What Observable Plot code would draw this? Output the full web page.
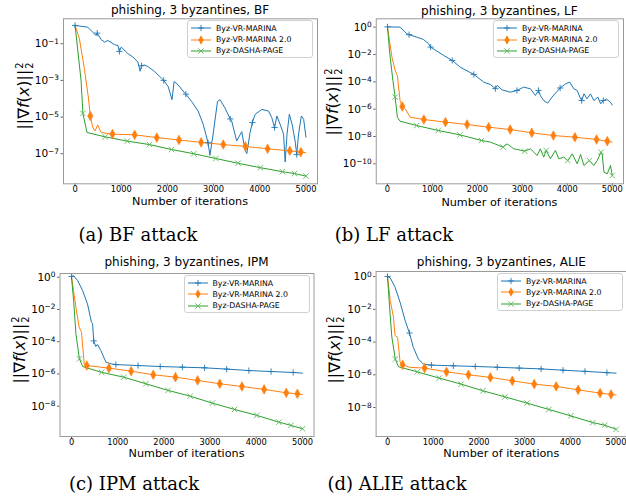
<!DOCTYPE html>
<html><head><meta charset="utf-8">
<script src="https://cdn.jsdelivr.net/npm/d3@7"></script>
<script src="https://cdn.jsdelivr.net/npm/@observablehq/plot@0.6"></script>
<style>
html,body{margin:0;padding:0;background:#fff}
body{width:626px;height:498px;overflow:hidden;position:relative;font-family:"DejaVu Sans",sans-serif;color:#000}
.abs{position:absolute;white-space:nowrap}
.title{font-size:12px;transform:translate(-50%,-50%)}
.xlab{font-size:11.2px;line-height:1;transform:translate(-50%,-50%)}
.ylab{font-size:16px;transform:translate(-50%,-50%) rotate(-90deg)}
.ss{display:inline-flex;flex-direction:column;font-size:0.62em;line-height:0.95;vertical-align:middle;margin-left:1px}
.cap{font-family:"DejaVu Serif",serif;font-size:18px;transform:translate(-50%,0)}
.leg{background:rgba(255,255,255,0.85);border:1px solid #d0d0d0;border-radius:3px;box-sizing:border-box;font-size:7.8px}
.row{position:absolute;left:3px;height:11px;display:flex;align-items:center}
.row svg{margin-right:5px}
svg.plot{position:absolute;overflow:visible}
</style></head><body>
<script>
// ---------- data ----------
const seriesNames = ["Byz-VR-MARINA", "Byz-VR-MARINA 2.0", "Byz-DASHA-PAGE"];
const seriesColors = ["#1f77b4", "#ff7f0e", "#2ca02c"];
const iterTicks = [0, 1000, 2000, 3000, 4000, 5000];
// iterations where the markers sit
const markVR = [0, 480, 960, 1440, 1920, 2400, 2880, 3360, 3840, 4320, 4800];
const markVR2 = [330, 810, 1290, 1770, 2250, 2730, 3210, 3690, 4170, 4650, 4890];
const markDasha = [170, 650, 1130, 1610, 2090, 2570, 3050, 3530, 4010, 4490, 4750, 5000];

// each point: [iteration, log10 of ||grad f(x)||^2]
// (a) BF attack
const bfVR = [[0,0],[275,-0.1],[456,-0.55],[480,-0.42],[565,-0.77],[640,-0.91],[710,-0.82],[855,-1.05],[930,-1.1],[960,-1.42],[1000,-1.18],[1145,-1.54],[1250,-1.72],[1360,-1.99],[1410,-2.5],[1440,-2.2],[1507,-2.16],[1580,-2.25],[1725,-2.52],[1870,-2.88],[1920,-3.0],[2015,-3.33],[2100,-4.05],[2145,-3.06],[2230,-3.24],[2375,-3.69],[2400,-3.75],[2520,-4.14],[2665,-4.67],[2775,-5.39],[2880,-6.4],[2920,-7.09],[2990,-5.93],[3085,-4.14],[3140,-4.05],[3245,-4.5],[3360,-5.1],[3390,-5.2],[3500,-6.3],[3610,-5.8],[3680,-6.8],[3720,-6.99],[3790,-5.84],[3840,-5.3],[3900,-4.85],[4045,-4.58],[4190,-4.67],[4260,-5.03],[4320,-5.57],[4370,-4.94],[4440,-5.39],[4515,-5.93],[4550,-7.45],[4590,-5.93],[4640,-4.85],[4700,-5.39],[4770,-6.38],[4800,-7.05],[4840,-5.93],[4900,-4.94],[4950,-5.12],[5000,-6.1]];
const bfVR2 = [[0,0],[95,-0.73],[200,-2.34],[290,-3.96],[330,-4.94],[385,-5.57],[435,-5.75],[490,-5.43],[565,-5.84],[710,-5.9],[810,-5.93],[1290,-5.97],[1770,-6.12],[2250,-6.25],[2730,-6.38],[3210,-6.5],[3690,-6.6],[4170,-6.73],[4650,-6.84],[4890,-6.91],[5000,-6.95]];
const bfDasha = [[0,0],[130,-3.0],[170,-4.8],[260,-5.84],[650,-6.08],[1130,-6.31],[1610,-6.5],[2090,-6.77],[2570,-7.0],[3050,-7.26],[3530,-7.52],[4010,-7.76],[4490,-7.98],[4750,-8.08],[5000,-8.22]];
// (b) LF attack
const lfVR = [[0,0.02],[280,0],[430,-0.49],[480,-0.55],[650,-0.73],[800,-0.9],[915,-1.22],[960,-1.46],[1100,-1.76],[1250,-2.07],[1440,-2.44],[1620,-2.93],[1920,-3.46],[2140,-4.02],[2290,-4.2],[2400,-4.5],[2440,-4.27],[2550,-4.59],[2735,-4.76],[2880,-4.63],[3030,-4.39],[3180,-4.51],[3290,-5.0],[3360,-4.63],[3400,-5.0],[3475,-5.37],[3565,-5.56],[3660,-5.12],[3840,-4.45],[3960,-4.15],[4055,-4.02],[4145,-4.51],[4220,-4.63],[4280,-5.12],[4320,-5.37],[4370,-4.88],[4440,-5.24],[4515,-4.88],[4590,-5.37],[4680,-5.12],[4740,-5.61],[4800,-5.37],[4875,-5.27],[4960,-5.49],[5000,-5.7]];
const lfVR2 = [[0,0],[100,-2.2],[170,-3.17],[220,-3.54],[280,-5.37],[330,-5.8],[395,-5.98],[505,-6.59],[810,-6.76],[1290,-6.95],[1770,-7.12],[2250,-7.32],[2730,-7.49],[3210,-7.73],[3690,-7.93],[4170,-8.05],[4650,-8.22],[4890,-8.34],[5000,-8.41]];
const lfDasha = [[0,0],[60,-2.2],[120,-3.9],[170,-5.12],[220,-6.59],[280,-6.88],[650,-7.2],[1130,-7.56],[1610,-7.88],[2090,-8.29],[2290,-8.41],[2570,-8.78],[2660,-8.54],[2810,-8.9],[3050,-9.07],[3180,-8.9],[3330,-9.39],[3400,-8.9],[3475,-9.51],[3530,-9.02],[3625,-9.63],[3735,-9.02],[3810,-9.63],[3920,-9.51],[4010,-9.76],[4110,-9.27],[4220,-10.0],[4295,-9.32],[4370,-10.12],[4490,-9.76],[4590,-10.12],[4665,-9.76],[4750,-9.15],[4775,-9.27],[4815,-10.61],[4890,-10.73],[4960,-10.12],[5000,-10.85]];
// (c) IPM attack
const ipmVR = [[0,0.04],[40,0.1],[130,-0.2],[240,-0.83],[345,-1.65],[430,-2.79],[455,-2.85],[480,-3.95],[525,-4.3],[560,-4.17],[635,-4.55],[745,-5.27],[850,-5.37],[960,-5.42],[1440,-5.48],[1920,-5.54],[2400,-5.58],[2880,-5.62],[3360,-5.7],[3840,-5.79],[4320,-5.85],[4800,-5.91],[5000,-5.95]];
const ipmVR2 = [[0,0],[95,-1.86],[165,-3.1],[215,-3.41],[275,-5.37],[330,-5.48],[635,-5.58],[810,-5.64],[1290,-5.83],[1770,-6.05],[2250,-6.2],[2730,-6.4],[3210,-6.61],[3690,-6.78],[4170,-6.96],[4650,-7.17],[4890,-7.23],[5000,-7.29]];
const ipmDasha = [[0,0],[45,-1.45],[95,-3.51],[170,-5.06],[240,-5.54],[650,-5.9],[1130,-6.2],[1610,-6.61],[2090,-7.02],[2570,-7.38],[3050,-7.81],[3530,-8.2],[4010,-8.57],[4490,-8.99],[4750,-9.19],[5000,-9.4]];
// (d) ALIE attack
const alieVR = [[0,0],[60,-0.08],[165,-0.65],[275,-1.57],[385,-2.69],[480,-3.45],[565,-4.33],[675,-5.04],[785,-5.35],[960,-5.41],[1440,-5.45],[1920,-5.49],[2400,-5.54],[2880,-5.59],[3360,-5.64],[3840,-5.72],[4320,-5.79],[4800,-5.87],[5000,-5.9]];
const alieVR2 = [[0,0],[60,-1.47],[130,-2.49],[165,-3.61],[220,-3.71],[275,-5.24],[330,-5.39],[495,-5.55],[810,-5.59],[1290,-5.82],[1770,-6.0],[2250,-6.16],[2730,-6.37],[3210,-6.57],[3690,-6.71],[4170,-6.92],[4650,-7.12],[4890,-7.2],[5000,-7.24]];
const alieDasha = [[0,0],[45,-1.88],[95,-3.71],[170,-5.04],[240,-5.51],[650,-5.82],[1130,-6.2],[1610,-6.57],[2090,-6.98],[2570,-7.35],[3050,-7.73],[3530,-8.12],[4010,-8.51],[4490,-8.92],[4750,-9.08],[5000,-9.33]];

const titles = ["phishing, 3 byzantines, BF", "phishing, 3 byzantines, LF", "phishing, 3 byzantines, IPM", "phishing, 3 byzantines, ALIE"];
const captions = ["(a) BF attack", "(b) LF attack", "(c) IPM attack", "(d) ALIE attack"];
const yTickExpA = [-1, -3, -5, -7];
const yTickExpB = [0, -2, -4, -6, -8, -10];
const yTickExpC = [0, -2, -4, -6, -8];
const yTickExpD = [0, -2, -4, -6, -8];
const xLabel = "Number of iterations";

// ---------- symbols ----------
const plusSym = {draw(c, s){const r = Math.sqrt(s/Math.PI); c.moveTo(-r,0); c.lineTo(r,0); c.moveTo(0,-r); c.lineTo(0,r);}};
const timesSym = {draw(c, s){const r = Math.sqrt(s/Math.PI)*0.72; c.moveTo(-r,-r); c.lineTo(r,r); c.moveTo(r,-r); c.lineTo(-r,r);}};
const thinDiamond = {draw(c, s){const r = Math.sqrt(s/Math.PI); const w = r*0.55; c.moveTo(0,-r); c.lineTo(w,0); c.lineTo(0,r); c.lineTo(-w,0); c.closePath();}};

const supMap = {"-":"\u2212"};

function addDiv(cls, x, y, html){
  const d = document.createElement("div");
  d.className = "abs " + cls;
  d.style.left = x + "px"; d.style.top = y + "px";
  d.innerHTML = html;
  document.body.appendChild(d);
  return d;
}

function panel(cfg){
  const marks = [markVR, markVR2, markDasha];
  const lines = [], pts = [];
  cfg.series.forEach((s, k) => s.forEach(([it, e]) => {
    const d = {it, v: 10 ** e, k};
    lines.push(d);
    if (marks[k].includes(it)) pts.push(d);
  }));
  const W = cfg.width, H = cfg.height;
  const fr = cfg.frame; // [left,right,top,bottom] in page px
  const svg = Plot.plot({
    width: W, height: H,
    marginLeft: fr[0]-cfg.left, marginRight: cfg.left+W-fr[1],
    marginTop: fr[2]-cfg.top, marginBottom: cfg.top+H-fr[3],
    style: {background: "transparent", fontFamily: "DejaVu Sans", overflow: "visible"},
    x: {domain: [-250, 5250]},
    y: {type: "log", domain: [10 ** cfg.yExp[0], 10 ** cfg.yExp[1]]},
    marks: [
      Plot.axisX({ticks: iterTicks, tickFormat: d => String(d), tickSize: 2.5, tickPadding: 0, fontSize: 8.3, label: null, stroke: "#666"}),
      Plot.axisY({ticks: cfg.yTicks.map(e => 10 ** e), tickFormat: d => String(Math.round(Math.log10(d))), tickSize: 2.5, tickPadding: 2, fontSize: 10.5, label: null, stroke: "#666"}),
      Plot.line(lines.filter(d => d.k === 0), {x: "it", y: "v", stroke: seriesColors[0], strokeWidth: 1}),
      Plot.line(lines.filter(d => d.k === 1), {x: "it", y: "v", stroke: seriesColors[1], strokeWidth: 1}),
      Plot.line(lines.filter(d => d.k === 2), {x: "it", y: "v", stroke: seriesColors[2], strokeWidth: 1}),
      Plot.dot(pts.filter(d => d.k === 0), {x: "it", y: "v", symbol: plusSym, r: 3.1, stroke: seriesColors[0], strokeWidth: 0.9, fill: "none"}),
      Plot.dot(pts.filter(d => d.k === 1), {x: "it", y: "v", symbol: thinDiamond, r: 4.8, fill: seriesColors[1], stroke: seriesColors[1], strokeWidth: 0.6}),
      Plot.dot(pts.filter(d => d.k === 2), {x: "it", y: "v", symbol: timesSym, r: 3.8, stroke: "#5cb85c", strokeWidth: 0.9, fill: "none"}),
      Plot.frame({stroke: "#9a9a9a", strokeWidth: 1})
    ]
  });
  svg.classList.add("plot");
  svg.style.left = cfg.left + "px"; svg.style.top = cfg.top + "px";
  document.body.appendChild(svg);
  // turn exponent labels into 10^e with superscript
  svg.querySelectorAll('g[aria-label="y-axis tick label"] text').forEach(t => {
    const e = t.textContent;
    t.textContent = "";
    const base = document.createElementNS("http://www.w3.org/2000/svg", "tspan");
    base.textContent = "10";
    const sup = document.createElementNS("http://www.w3.org/2000/svg", "tspan");
    sup.textContent = e.split("").map(c => supMap[c] || c).join("");
    sup.setAttribute("font-size", "7.4");
    sup.setAttribute("dy", "-0.45em");
    t.appendChild(base); t.appendChild(sup);
  });
  const cx = (fr[0] + fr[1]) / 2;
  addDiv("title", cx, cfg.titleY, cfg.title);
  addDiv("xlab", cx, cfg.xlabY, xLabel);
  addDiv("ylab", cfg.ylab[0], cfg.ylab[1], '||\u2207<i>f</i>(<i>x</i>)||<span class="ss"><span>2</span><span>2</span></span>');
  addDiv("cap", cfg.cap[0], cfg.cap[1], cfg.caption);
  // legend
  const lw = 126, lh = 38;
  const leg = addDiv("leg", fr[1] - 4 - lw, fr[2] + 1.5, "");
  leg.style.width = lw + "px"; leg.style.height = lh + "px";
  const sw = [
    '<path d="M10,1.9V8.1M6.9,5H13.1" stroke="#1f77b4" stroke-width="0.9"/>',
    '<path d="M10,0.3L12.6,5L10,9.7L7.4,5Z" fill="#ff7f0e"/>',
    '<path d="M7.3,2.3L12.7,7.7M12.7,2.3L7.3,7.7" stroke="#5cb85c" stroke-width="0.9"/>'
  ];
  seriesNames.forEach((name, k) => {
    const r = document.createElement("div");
    r.className = "row";
    r.style.top = (2 + k * 11.3) + "px";
    r.innerHTML = '<svg width="20" height="10" viewBox="0 0 20 10"><line x1="0" y1="5" x2="20" y2="5" stroke="' + seriesColors[k] + '" stroke-width="1"/>' + sw[k] + '</svg><span>' + name + '</span>';
    leg.appendChild(r);
  });
}

panel({left: 0, top: 0, width: 322, height: 200, frame: [63, 317, 18.3, 183.3], yExp: [-8.64, 0.36], yTicks: yTickExpA,
  series: [bfVR, bfVR2, bfDasha], title: titles[0], titleY: 9.5, xlabY: 202, ylab: [24, 96], caption: captions[0], cap: [138, 224]});
panel({left: 318, top: 0, width: 308, height: 200, frame: [375.75, 623, 18.3, 183.3], yExp: [-11.46, 0.61], yTicks: yTickExpB,
  series: [lfVR, lfVR2, lfDasha], title: titles[1], titleY: 10.5, xlabY: 202.5, ylab: [333, 102], caption: captions[1], cap: [394, 224]});
panel({left: 0, top: 250, width: 322, height: 200, frame: [59.5, 313.5, 273, 436], yExp: [-9.88, 0.23], yTicks: yTickExpC,
  series: [ipmVR, ipmVR2, ipmDasha], title: titles[2], titleY: 262, xlabY: 454, ylab: [20, 350], caption: captions[2], cap: [134, 473]});
panel({left: 318, top: 250, width: 312, height: 200, frame: [375.6, 627, 271, 436], yExp: [-9.77, 0.31], yTicks: yTickExpD,
  series: [alieVR, alieVR2, alieDasha], title: titles[3], titleY: 262, xlabY: 454, ylab: [335, 350], caption: captions[3], cap: [397, 473]});
</script>
</body></html>
